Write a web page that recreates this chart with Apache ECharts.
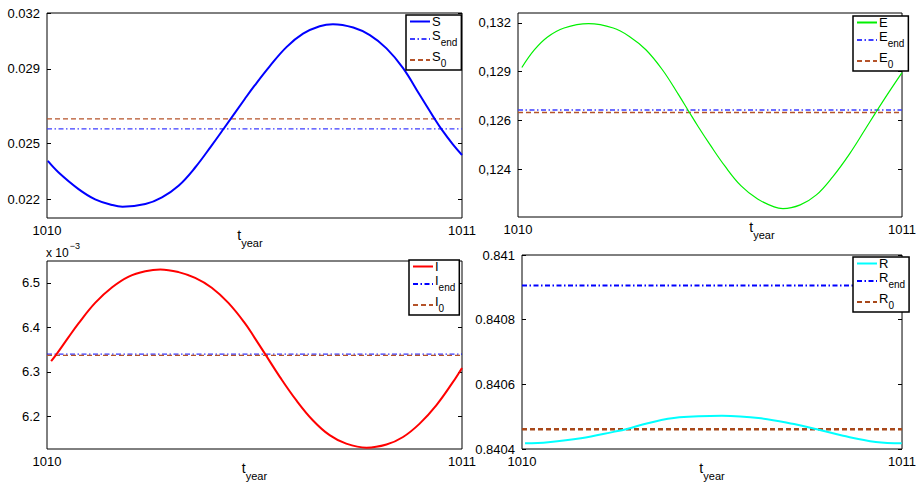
<!DOCTYPE html>
<html>
<head>
<meta charset="utf-8">
<script src="https://cdn.jsdelivr.net/npm/echarts@6/dist/echarts.min.js"></script>
<style>
html,body{margin:0;padding:0;background:#fff;}
#chart{width:919px;height:487px;}
</style>
</head>
<body>
<div id="chart"></div>
<script>
// ---- data (t = fraction of the year after 1010) ----
const xStart = 1010;
const xEnd = 1011;
const xTickLabels = ['1010', '1011'];

const sT   = [0.002, 0.028, 0.076, 0.116, 0.157, 0.182, 0.237, 0.277, 0.317, 0.357, 0.397, 0.427, 0.477, 0.500, 0.537, 0.577, 0.617, 0.657, 0.689, 0.738, 0.778, 0.818, 0.858, 0.898, 0.934, 0.950, 0.978, 1.000];
const sVal = [0.02406, 0.02344, 0.02255, 0.02200, 0.02170, 0.02161, 0.02175, 0.02211, 0.02273, 0.02371, 0.02490, 0.02583, 0.02740, 0.02810, 0.02915, 0.03017, 0.03089, 0.03129, 0.03140, 0.03122, 0.03081, 0.03010, 0.02904, 0.02761, 0.02632, 0.02578, 0.02495, 0.02438];
const sEnd = 0.02578;
const s0 = 0.02632;
const sTickValues = [0.022, 0.025, 0.029, 0.032];
const sTickLabels = ['0.022', '0.025', '0.029', '0.032'];

const eT   = [0.010, 0.043, 0.077, 0.120, 0.184, 0.248, 0.290, 0.333, 0.376, 0.418, 0.444, 0.469, 0.500, 0.539, 0.581, 0.624, 0.667, 0.690, 0.735, 0.777, 0.820, 0.863, 0.905, 0.931, 0.965, 1.000];
const eVal = [0.12922, 0.13017, 0.13085, 0.13133, 0.13156, 0.13133, 0.13088, 0.13017, 0.12910, 0.12777, 0.12690, 0.12607, 0.12510, 0.12395, 0.12290, 0.12220, 0.12178, 0.12169, 0.12189, 0.12242, 0.12340, 0.12460, 0.12595, 0.12680, 0.12788, 0.12895];
const eEnd = 0.12695;
const e0 = 0.12682;
const eTickValues = [0.1238, 0.1264, 0.1290, 0.1316];
const eTickLabels = ['0,124', '0,126', '0,129', '0,132'];

const iT   = [0.010, 0.024, 0.052, 0.076, 0.116, 0.157, 0.197, 0.237, 0.273, 0.317, 0.357, 0.397, 0.437, 0.478, 0.500, 0.525, 0.561, 0.601, 0.641, 0.681, 0.721, 0.770, 0.818, 0.858, 0.898, 0.938, 0.978, 1.000];
const iVal = [6.324, 6.341, 6.378, 6.409, 6.455, 6.490, 6.514, 6.526, 6.530, 6.524, 6.511, 6.489, 6.455, 6.408, 6.377, 6.341, 6.289, 6.236, 6.191, 6.158, 6.139, 6.130, 6.137, 6.154, 6.184, 6.225, 6.277, 6.309]; // x 10^-3
const iEnd = 6.340;
const i0 = 6.337;
const iTickValues = [6.2, 6.3, 6.4, 6.5];
const iTickLabels = ['6.2', '6.3', '6.4', '6.5'];

const rT   = [0.008, 0.069, 0.155, 0.241, 0.276, 0.328, 0.414, 0.526, 0.629, 0.716, 0.776, 0.845, 0.931, 0.999];
const rVal = [0.8404175, 0.840421, 0.840433, 0.840453, 0.840462, 0.840479, 0.840498, 0.840503, 0.840495, 0.840477, 0.840461, 0.840441, 0.840422, 0.840418];
const rEnd = 0.840906;
const r0 = 0.840461;
const rTickValues = [0.8404, 0.8406, 0.8408, 0.841];
const rTickLabels = ['0.8404', '0.8406', '0.8408', '0.841'];

// ---- chart ----
const FONT = '"Liberation Sans", Arial, Helvetica, sans-serif';
const DASHDOT = [5, 2.5, 1.5, 2.5];
const DASH = [5, 3];

function pairs(ts, vs) { return ts.map((t, k) => [xStart + t, vs[k]]); }
function flat(v) { return [[xStart, v], [xEnd, v]]; }
function labelFor(values, labels) {
  return function (v) {
    let best = 0;
    for (let k = 1; k < values.length; k++) if (Math.abs(values[k] - v) < Math.abs(values[best] - v)) best = k;
    return labels[best];
  };
}

const grids = [
  { left: 47, top: 13, width: 415, height: 205 },
  { left: 518, top: 13, width: 391, height: 204 },
  { left: 47, top: 261, width: 415, height: 188 },
  { left: 522, top: 255, width: 386, height: 194 }
];

const panels = [
  { min: 0.021, max: 0.032, ticks: sTickValues, labels: sTickLabels, namePad: [0, 9, 0, 0], nameGap: 15 },
  { min: 0.12124, max: 0.13213, ticks: eTickValues, labels: eTickLabels, namePad: [0, 0, 0, 104], nameGap: 8 },
  { min: 6.127, max: 6.549, ticks: iTickValues, labels: iTickLabels, namePad: [0, 0, 0, 0], nameGap: 17 },
  { min: 0.8404, max: 0.841, ticks: rTickValues, labels: rTickLabels, namePad: [0, 0, 0, 0], nameGap: 17 }
];

const xAxes = panels.map((p, g) => ({
  type: 'value', gridIndex: g, min: xStart, max: xEnd, interval: 1,
  axisLine: { show: false }, axisTick: { show: false }, splitLine: { show: false },
  axisLabel: { color: '#000', fontSize: 13, fontFamily: FONT, margin: 6, showMinLabel: true, showMaxLabel: true,
    formatter: v => xTickLabels[Math.round(v - xStart)] },
  name: '{t|t}{s|year}', nameLocation: 'middle', nameGap: p.nameGap, nameMoveOverlap: false,
  nameTextStyle: {
    padding: p.namePad, verticalAlign: 'top',
    rich: {
      t: { fontSize: 14, fontFamily: FONT, color: '#000', lineHeight: 12, padding: [0, 0, 8, 0] },
      s: { fontSize: 11, fontFamily: FONT, color: '#000', lineHeight: 10, padding: [9, 0, 1, 0] }
    }
  }
}));

const yLeft = panels.map((p, g) => ({
  type: 'value', gridIndex: g, min: p.min, max: p.max, position: 'left',
  axisLine: { show: false }, splitLine: { show: false },
  axisTick: { show: true, inside: true, length: 4, customValues: p.ticks, lineStyle: { color: '#000' } },
  axisLabel: { color: '#000', fontSize: 13, fontFamily: FONT, margin: 7, customValues: p.ticks,
    formatter: labelFor(p.ticks, p.labels) }
}));
const yRight = panels.map((p, g) => ({
  type: 'value', gridIndex: g, min: p.min, max: p.max, position: 'right',
  axisLine: { show: false }, splitLine: { show: false },
  axisTick: { show: true, inside: true, length: 4, customValues: p.ticks, lineStyle: { color: '#000' } },
  axisLabel: { show: false, customValues: p.ticks }
}));

function mainSeries(name, g, data, color, width) {
  return { name, type: 'line', xAxisIndex: g, yAxisIndex: g, data, smooth: 0.4, showSymbol: false, symbol: 'none',
    lineStyle: { color, width, type: 'solid' }, itemStyle: { color }, animation: false, silent: true, z: 3 };
}
function constSeries(name, g, v, color, width, dash) {
  return { name, type: 'line', xAxisIndex: g, yAxisIndex: g, data: flat(v), showSymbol: false, symbol: 'none',
    lineStyle: { color, width, type: dash }, itemStyle: { color }, animation: false, silent: true, z: 2 };
}

const BLUE_DD = '#3d3dff';
const BROWN = '#b5532a';

const series = [
  mainSeries('S', 0, pairs(sT, sVal), '#0000ff', 2),
  constSeries('Send', 0, sEnd, BLUE_DD, 1.2, DASHDOT),
  constSeries('S0', 0, s0, BROWN, 1.2, DASH),
  mainSeries('E', 1, pairs(eT, eVal), '#00f000', 1.2),
  constSeries('Eend', 1, eEnd, BLUE_DD, 1.4, DASHDOT),
  constSeries('E0', 1, e0, BROWN, 1.4, DASH),
  mainSeries('I', 2, pairs(iT, iVal), '#ff0000', 2),
  constSeries('Iend', 2, iEnd, '#0000ff', 1, DASHDOT),
  constSeries('I0', 2, i0, BROWN, 1.2, DASH),
  mainSeries('R', 3, pairs(rT, rVal), '#00ffff', 2),
  constSeries('Rend', 3, rEnd, '#0000ff', 2, DASHDOT),
  constSeries('R0', 3, r0, '#a8481a', 2.4, DASH)
];

const legendRich = {
  p: { fontSize: 13, fontFamily: FONT, color: '#000', lineHeight: 19 },
  m: { fontSize: 13, fontFamily: FONT, color: '#000', lineHeight: 12, padding: [0, 0, 7, 0] },
  s: { fontSize: 10, fontFamily: FONT, color: '#000', lineHeight: 9, padding: [8, 0, 2, 0] }
};
function legendFormatter(name) {
  if (name.length === 1) return '{p|' + name + '}';
  return '{m|' + name[0] + '}{s|' + name.slice(1) + '}';
}
const legendPos = [
  { left: 406, top: 15 },
  { left: 853, top: 16 },
  { left: 409, top: 260 },
  { left: 853, top: 257 }
];
const legendNames = [['S', 'Send', 'S0'], ['E', 'Eend', 'E0'], ['I', 'Iend', 'I0'], ['R', 'Rend', 'R0']];
const legends = legendNames.map((names, g) => ({
  left: legendPos[g].left, top: legendPos[g].top, orient: 'vertical',
  data: names, itemWidth: 20, itemHeight: 10, itemGap: 1,
  padding: [0, 4, 0, 3], borderColor: '#000', borderWidth: 1.5, backgroundColor: '#fff',
  itemStyle: { opacity: 0 }, selectedMode: false,
  textStyle: { rich: legendRich, padding: [0, 0, 0, -3] },
  formatter: legendFormatter
}));

const chart = echarts.init(document.getElementById('chart'), null, { renderer: 'svg', width: 919, height: 487 });
chart.setOption({
  backgroundColor: '#fff',
  animation: false,
  textStyle: { fontFamily: FONT },
  title: [{ left: 46, top: 244, padding: 0, text: '{a|x 10}{b|−3}',
    textStyle: { fontWeight: 'normal', rich: {
      a: { fontSize: 12, fontWeight: 'normal', fontFamily: FONT, color: '#000', lineHeight: 12, padding: [6, 0, 0, 0] },
      b: { fontSize: 9, fontWeight: 'normal', fontFamily: FONT, color: '#000', lineHeight: 9, padding: [0, 0, 9, 1] } } } }],
  grid: grids.map(g => Object.assign({ show: true, borderColor: '#000', borderWidth: 1, backgroundColor: '#fff' }, g)),
  xAxis: xAxes,
  yAxis: yLeft.concat(yRight),
  legend: legends,
  series
});
</script>
</body>
</html>
